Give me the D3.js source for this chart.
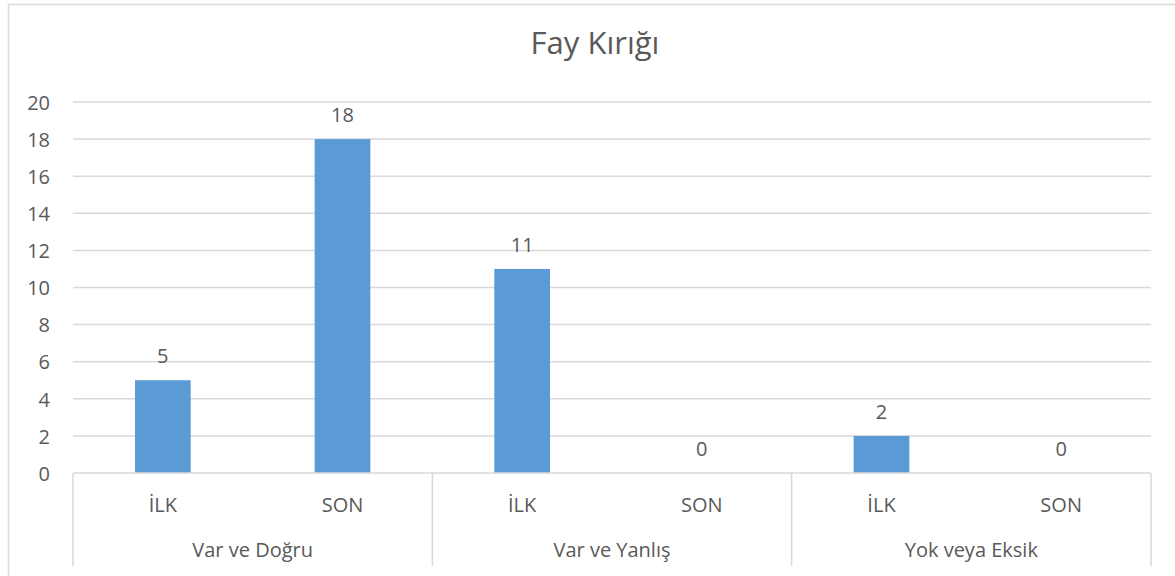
<!DOCTYPE html>
<html>
<head>
<meta charset="utf-8">
<script src="https://cdn.jsdelivr.net/npm/d3@7"></script>
<style>
  html, body { margin: 0; padding: 0; background: #fff; }
  svg { display: block; }
  text { font-family: "Open Sans", "Noto Sans", sans-serif; fill: #595959; }
</style>
</head>
<body>
<svg id="chart" width="1175" height="576"></svg>
<script>
const title = "Fay Kırığı";
const groups = ["Var ve Doğru", "Var ve Yanlış", "Yok veya Eksik"];
const subLabels = ["İLK", "SON"];
const values = [5, 18, 11, 0, 2, 0];
const yTicks = [0, 2, 4, 6, 8, 10, 12, 14, 16, 18, 20];

const svg = d3.select("#chart");
const plot = { left: 73, right: 1151, top: 102, bottom: 473 };
const grid = "#D9D9D9";
const fs = "20px";

// outer chart border (extends past the canvas at right/bottom)
svg.append("rect").attr("x", 8.5).attr("y", 4.5).attr("width", 1200).attr("height", 600)
  .attr("fill", "#fff").attr("stroke", grid).attr("stroke-width", 1.5);

// title
svg.append("text").attr("x", 595).attr("y", 54).attr("text-anchor", "middle")
  .style("font-size", "31px").text(title);

const cats = [];
groups.forEach((g, gi) => subLabels.forEach((s, si) => cats.push({ key: g + "|" + s, group: g, sub: s, value: values[gi * subLabels.length + si] })));

const x = d3.scaleBand().domain(cats.map(d => d.key)).range([plot.left, plot.right]).padding(0);
const xg = d3.scaleBand().domain(groups).range([plot.left, plot.right]).padding(0);
const y = d3.scaleLinear().domain([0, 20]).range([plot.bottom, plot.top]);

// gridlines
svg.append("g").selectAll("line").data(yTicks.filter(t => t > 0)).join("line")
  .attr("x1", plot.left).attr("x2", plot.right)
  .attr("y1", d => y(d)).attr("y2", d => y(d))
  .attr("stroke", grid).attr("stroke-width", 1.5);

// y axis labels
const yAxis = d3.axisLeft(y).tickValues(yTicks).tickSize(0).tickPadding(0);
const ya = svg.append("g").attr("transform", `translate(50,0)`).call(yAxis);
ya.select(".domain").remove();
ya.selectAll("text").style("font-size", fs).style("font-family", null).attr("fill", "#595959").attr("dy", "0.36em");
ya.attr("font-family", null);

// bars
const barW = x.bandwidth() * 0.31;
svg.append("g").selectAll("rect").data(cats).join("rect")
  .attr("x", d => x(d.key) + (x.bandwidth() - barW) / 2)
  .attr("width", barW)
  .attr("y", d => y(d.value))
  .attr("height", d => y(0) - y(d.value))
  .attr("fill", "#5B9BD5");

// data labels
svg.append("g").selectAll("text").data(cats).join("text")
  .attr("x", d => x(d.key) + x.bandwidth() / 2)
  .attr("y", d => y(d.value) - 17)
  .attr("text-anchor", "middle")
  .style("font-size", fs)
  .text(d => d.value);

// category axis line
svg.append("line").attr("x1", plot.left).attr("x2", plot.right)
  .attr("y1", plot.bottom).attr("y2", plot.bottom)
  .attr("stroke", grid).attr("stroke-width", 1.5);

// group separators
const seps = groups.map(g => xg(g)).concat([plot.right]);
svg.append("g").selectAll("line").data(seps).join("line")
  .attr("x1", d => d).attr("x2", d => d)
  .attr("y1", plot.bottom).attr("y2", 566)
  .attr("stroke", grid).attr("stroke-width", 1.5);

// sub labels
svg.append("g").selectAll("text").data(cats).join("text")
  .attr("x", d => x(d.key) + x.bandwidth() / 2)
  .attr("y", 512)
  .attr("text-anchor", "middle")
  .style("font-size", fs)
  .text(d => d.sub);

// group labels
svg.append("g").selectAll("text").data(groups).join("text")
  .attr("x", d => xg(d) + xg.bandwidth() / 2)
  .attr("y", 557)
  .attr("text-anchor", "middle")
  .style("font-size", fs)
  .text(d => d);
</script>
</body>
</html>
